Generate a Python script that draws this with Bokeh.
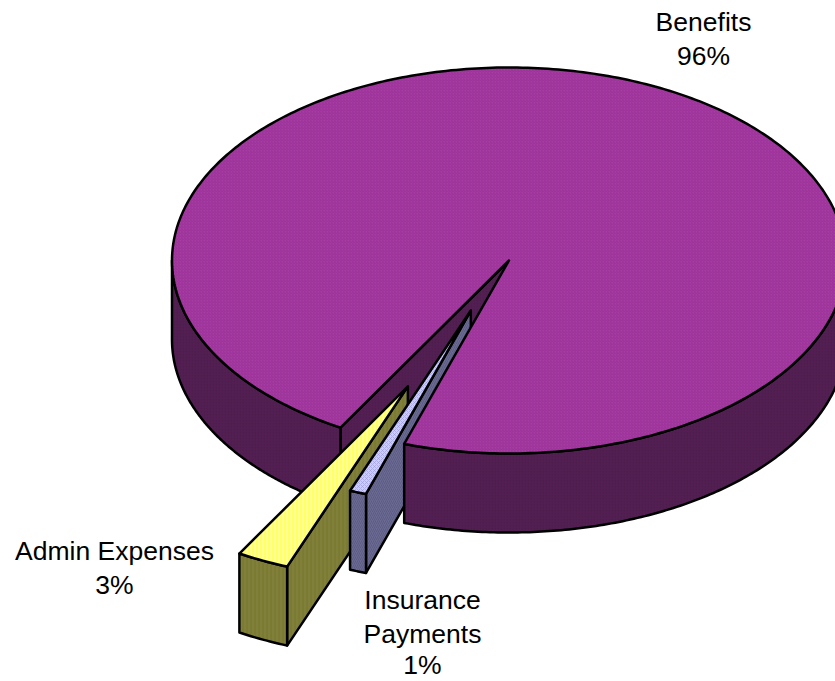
import math
from bokeh.plotting import figure
from bokeh.models import Range1d
from bokeh.core.properties import value
from bokeh.embed import file_html
from bokeh.resources import INLINE

# --- data ---
categories = ["Benefits", "Insurance Payments", "Admin Expenses"]
shares = [96.7, 0.8, 2.5]
percent_labels = ["96%", "1%", "3%"]
explode = [0.0, 0.283, 0.718]
explode_dir = [0.0, 113.6, 114.7]

# --- pie geometry (screen pixels) ---
CX, CY, RX, RY, DEPTH = 508.5, 260.0, 337.0, 193.0, 79.0
START = 120.0  # Benefits begins here, sweeping clockwise on screen

top_colors = ["#A63CA4", "#CCCCFF", "#FFFF66"]
top_hatch = ["#922C90", "#9A9AE0", "#FFFFFF"]
side_colors = ["#4D1E4D", "#6A6A92", "#80803A"]
side_hatch = ["#591F59", "#52527A", "#6E6E20"]
top_pattern = ["right_diagonal_line", "diagonal_cross", "vertical_line"]
side_pattern = ["right_diagonal_line", "right_diagonal_line", "vertical_line"]

p = figure(width=835, height=681, x_range=Range1d(0, 835), y_range=Range1d(681, 0),
           output_backend="svg", toolbar_location=None, min_border=0,
           outline_line_color=None, background_fill_color="white")
p.axis.visible = False
p.grid.visible = False


def arc(t0, t1, ox, oy, dz=0.0, n=160):
    pts = []
    for i in range(n + 1):
        t = math.radians(t0 + (t1 - t0) * i / n)
        pts.append((CX + ox + RX * math.cos(t), CY + oy + RY * math.sin(t) + dz))
    return pts


def poly(pts, fill, hatch, pattern, scale=4, lw=2.5):
    xs = [q[0] for q in pts]
    ys = [q[1] for q in pts]
    p.patch(xs, ys, fill_color=fill, line_color="black", line_width=lw, line_join="round",
            hatch_pattern=pattern, hatch_color=hatch, hatch_scale=scale, hatch_weight=1, hatch_alpha=0.6)


# slice angular spans, from the shares
spans = []
a = START
for s in shares:
    spans.append((a, a + s * 3.6))
    a += s * 3.6
spans = [spans[0]] + [(t0 - 360, t1 - 360) for t0, t1 in spans[1:]]
offsets = []
for e, d in zip(explode, explode_dir):
    m = math.radians(d)
    offsets.append((e * RX * math.cos(m), e * RY * math.sin(m)))

b0, b1 = spans[0]
near_edge = b1 - 360
apex = (CX, CY)

# inner cut face seen through the gap, and the left part of the wall
edge = arc(b0, b0, 0, 0, n=1)[0]
poly([apex, edge, (edge[0], edge[1] + DEPTH), (apex[0], apex[1] + DEPTH)],
     side_colors[0], side_hatch[0], side_pattern[0], 3)
poly(arc(b0, 180, 0, 0) + arc(180, b0, 0, 0, DEPTH), side_colors[0], side_hatch[0], side_pattern[0], 3)

# exploded slices: admin first, insurance in front of it
for i in [2, 1]:
    t0, t1 = spans[i]
    ox, oy = offsets[i]
    tip = (CX + ox, CY + oy)
    e0 = arc(t0, t0, ox, oy, n=1)[0]
    poly([tip, e0, (e0[0], e0[1] + DEPTH), (tip[0], tip[1] + DEPTH)],
         side_colors[i], side_hatch[i], side_pattern[i], 4)
    poly(arc(t0, t1, ox, oy, n=12) + arc(t1, t0, ox, oy, DEPTH, n=12),
         side_colors[i], side_hatch[i], side_pattern[i], 4)
    poly([tip] + arc(t0, t1, ox, oy, n=12), top_colors[i], top_hatch[i], top_pattern[i], 4)

# right part of the wall and the Benefits top, in front of the insurance slice
poly(arc(0, near_edge, 0, 0) + arc(near_edge, 0, 0, 0, DEPTH), side_colors[0], side_hatch[0], side_pattern[0], 3)
poly([apex] + arc(b0, b1, 0, 0, n=400), top_colors[0], top_hatch[0], top_pattern[0], 3)

# labels
label_lines = [
    ([categories[0], percent_labels[0]], 703, [21, 55]),
    ([categories[2], percent_labels[2]], 114, [550, 584]),
    (["Insurance", "Payments", percent_labels[1]], 422, [599, 633, 664]),
]
for lines, x, ys in label_lines:
    p.text([x] * len(lines), ys, text=lines, text_font=value("Liberation Sans"),
           text_font_size="26.5px", text_align="center", text_baseline="middle", text_color="black")

open("out.html", "w").write(file_html(p, INLINE))
